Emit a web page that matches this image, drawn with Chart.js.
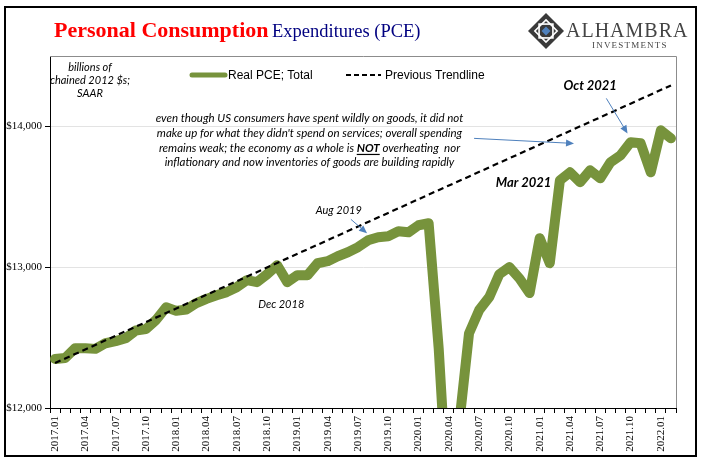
<!DOCTYPE html>
<html>
<head>
<meta charset="utf-8">
<script src="https://cdn.jsdelivr.net/npm/chart.js@4.4.1/dist/chart.umd.min.js"></script>
<style>
  html, body { margin: 0; padding: 0; background: #fff; }
  canvas { display: block; }
</style>
</head>
<body>
<canvas id="pce" width="705" height="461"></canvas>
<script>
// months on the x axis
const months = [
  '2017.01','2017.02','2017.03','2017.04','2017.05','2017.06','2017.07','2017.08','2017.09','2017.10','2017.11','2017.12',
  '2018.01','2018.02','2018.03','2018.04','2018.05','2018.06','2018.07','2018.08','2018.09','2018.10','2018.11','2018.12',
  '2019.01','2019.02','2019.03','2019.04','2019.05','2019.06','2019.07','2019.08','2019.09','2019.10','2019.11','2019.12',
  '2020.01','2020.02','2020.03','2020.04','2020.05','2020.06','2020.07','2020.08','2020.09','2020.10','2020.11','2020.12',
  '2021.01','2021.02','2021.03','2021.04','2021.05','2021.06','2021.07','2021.08','2021.09','2021.10','2021.11','2021.12',
  '2022.01','2022.02'
];

// Real PCE, billions of chained 2012 $, SAAR
const realPce = [
  12348, 12355, 12425, 12425, 12420, 12460, 12475, 12495, 12550, 12560, 12625, 12715,
  12690, 12700, 12745, 12775, 12800, 12823, 12858, 12908, 12894, 12950, 13014, 12894,
  12943, 12943, 13028, 13043, 13078, 13106, 13142, 13191, 13213, 13220, 13255, 13248,
  13298, 13312, 12420, 11200, 11870, 12530, 12695, 12787, 12950, 13000, 12920, 12816,
  13206, 13028, 13617, 13674, 13603, 13688, 13631, 13745, 13794, 13887, 13880, 13674,
  13972, 13915
];

// previous trendline, straight from first to last month
const trendMonths = ['2017.01', '2022.02'];
const trendValues = [12319, 14291];

// axis labels
const xTickLabels = ['2017.01','2017.04','2017.07','2017.10','2018.01','2018.04','2018.07','2018.10',
  '2019.01','2019.04','2019.07','2019.10','2020.01','2020.04','2020.07','2020.10',
  '2021.01','2021.04','2021.07','2021.10','2022.01'];
const yTicks = [12000, 13000, 14000];

const GREEN = '#77933C';
const ARROW = '#4F81BD';

function arrow(ctx, x1, y1, x2, y2) {
  const a = Math.atan2(y2 - y1, x2 - x1);
  const len = 8;
  ctx.save();
  ctx.strokeStyle = ARROW;
  ctx.fillStyle = ARROW;
  ctx.lineWidth = 1;
  ctx.beginPath();
  ctx.moveTo(x1, y1);
  ctx.lineTo(x2 - Math.cos(a) * len * 0.8, y2 - Math.sin(a) * len * 0.8);
  ctx.stroke();
  ctx.beginPath();
  ctx.moveTo(x2, y2);
  ctx.lineTo(x2 - len * Math.cos(a) + 3.5 * Math.sin(a), y2 - len * Math.sin(a) - 3.5 * Math.cos(a));
  ctx.lineTo(x2 - len * Math.cos(a) - 3.5 * Math.sin(a), y2 - len * Math.sin(a) + 3.5 * Math.cos(a));
  ctx.closePath();
  ctx.fill();
  ctx.restore();
}

function drawLogo(ctx) {
  const cx = 546, cy = 31, r = 18;
  ctx.save();
  ctx.fillStyle = '#3a3a3a';
  ctx.beginPath();
  ctx.moveTo(cx, cy - r); ctx.lineTo(cx + r, cy); ctx.lineTo(cx, cy + r); ctx.lineTo(cx - r, cy);
  ctx.closePath();
  ctx.fill();
  // lattice
  ctx.strokeStyle = '#fff';
  ctx.lineWidth = 1.6;
  const s = r * 0.62;
  ctx.beginPath();
  ctx.moveTo(cx, cy - s); ctx.lineTo(cx + s, cy); ctx.lineTo(cx, cy + s); ctx.lineTo(cx - s, cy);
  ctx.closePath();
  ctx.stroke();
  ctx.strokeRect(cx - s * 0.62, cy - s * 0.62, s * 1.24, s * 1.24);
  ctx.fillStyle = '#4F81BD';
  ctx.beginPath();
  const b = 4.5;
  ctx.moveTo(cx, cy - b); ctx.lineTo(cx + b, cy); ctx.lineTo(cx, cy + b); ctx.lineTo(cx - b, cy);
  ctx.closePath();
  ctx.fill();
  ctx.restore();

  ctx.save();
  ctx.fillStyle = '#444';
  ctx.textBaseline = 'alphabetic';
  ctx.textAlign = 'left';
  ctx.font = '20px "Liberation Serif"';
  ctx.letterSpacing = '1px';
  ctx.fillText('ALHAMBRA', 566, 37);
  ctx.font = '9px "Liberation Serif"';
  ctx.letterSpacing = '1.2px';
  ctx.fillText('INVESTMENTS', 592, 48);
  ctx.restore();
}

const decorations = {
  id: 'decorations',
  beforeDraw(chart) {
    const ctx = chart.ctx;
    ctx.save();
    ctx.fillStyle = '#fff';
    ctx.fillRect(0, 0, chart.width, chart.height);
    ctx.restore();
  },
  beforeDatasetsDraw(chart) {
    const ctx = chart.ctx;
    const a = chart.chartArea;
    ctx.save();
    ctx.strokeStyle = '#8c8c8c';
    ctx.lineWidth = 1;
    ctx.beginPath();
    ctx.moveTo(a.left, a.top + 0.5);
    ctx.lineTo(a.right + 0.5, a.top + 0.5);
    ctx.lineTo(a.right + 0.5, a.bottom);
    ctx.stroke();
    ctx.restore();
  },
  afterDraw(chart) {
    const ctx = chart.ctx;
    const xs = chart.scales.x, ys = chart.scales.y;
    const P = (i, v) => ({ x: xs.getPixelForValue(i), y: ys.getPixelForValue(v) });

    // outer frame
    ctx.save();
    ctx.strokeStyle = '#000';
    ctx.lineWidth = 2;
    ctx.strokeRect(5, 7, 691, 449);
    ctx.restore();

    // title
    ctx.save();
    ctx.textBaseline = 'alphabetic';
    ctx.textAlign = 'left';
    ctx.font = 'bold 22px "Liberation Serif"';
    ctx.fillStyle = '#FF0000';
    ctx.fillText('Personal Consumption', 54, 37);
    const w = ctx.measureText('Personal Consumption ').width;
    ctx.font = '18.5px "Liberation Serif"';
    ctx.fillStyle = '#000080';
    ctx.fillText('Expenditures (PCE)', 54 + w - 2, 37);
    ctx.restore();

    drawLogo(ctx);

    // units note
    ctx.save();
    ctx.font = 'italic 11px "Lato"';
    ctx.fillStyle = '#000';
    ctx.textAlign = 'center';
    ctx.fillText('billions of', 90, 71);
    ctx.fillText('chained 2012 $s;', 90, 84);
    ctx.fillText('SAAR', 90, 97);
    ctx.restore();

    // legend
    ctx.save();
    ctx.lineCap = 'round';
    ctx.strokeStyle = GREEN;
    ctx.lineWidth = 5;
    ctx.beginPath(); ctx.moveTo(192, 75); ctx.lineTo(225, 75); ctx.stroke();
    ctx.lineCap = 'butt';
    ctx.strokeStyle = '#000';
    ctx.lineWidth = 2;
    ctx.setLineDash([5, 3]);
    ctx.beginPath(); ctx.moveTo(346, 75); ctx.lineTo(381, 75); ctx.stroke();
    ctx.setLineDash([]);
    ctx.font = '12px "Liberation Sans"';
    ctx.fillStyle = '#000';
    ctx.textAlign = 'left';
    ctx.fillText('Real PCE; Total', 228, 79);
    ctx.fillText('Previous Trendline', 385, 79);
    ctx.restore();

    // main comment
    ctx.save();
    ctx.fillStyle = '#000';
    ctx.font = 'italic 11.5px "Lato"';
    ctx.textAlign = 'center';
    const c = P(25.2, 14028);
    ctx.fillText('even though US consumers have spent wildly on goods, it did not', c.x, c.y);
    ctx.fillText("make up for what they didn't spend on services; overall spending", c.x, c.y + 14.7);
    // third line with bold underlined NOT
    const pre = 'remains weak; the economy as a whole is ';
    const post = ' overheating  nor';
    const italic = 'italic 11.5px "Lato"';
    const bold = 'italic bold 11.5px "Lato"';
    ctx.font = italic;
    const wPre = ctx.measureText(pre).width, wPost = ctx.measureText(post).width;
    ctx.font = bold;
    const wNot = ctx.measureText('NOT').width;
    let x0 = c.x - (wPre + wNot + wPost) / 2;
    const y3 = c.y + 29.4;
    ctx.textAlign = 'left';
    ctx.font = italic;
    ctx.fillText(pre, x0, y3);
    ctx.font = bold;
    ctx.fillText('NOT', x0 + wPre, y3);
    ctx.fillRect(x0 + wPre, y3 + 2, wNot, 1.2);
    ctx.font = italic;
    ctx.fillText(post, x0 + wPre + wNot, y3);
    ctx.textAlign = 'center';
    ctx.fillText('inflationary and now inventories of goods are building rapidly', c.x, c.y + 44);
    ctx.restore();

    // point labels
    ctx.save();
    ctx.fillStyle = '#000';
    ctx.textAlign = 'center';
    ctx.font = 'italic 11px "Lato"';
    let p = P(28.1, 13376);
    ctx.fillText('Aug 2019', p.x, p.y);
    p = P(22.4, 12709);
    ctx.fillText('Dec 2018', p.x, p.y);
    ctx.font = 'italic bold 13px "Lato"';
    p = P(46.4, 13567);
    ctx.fillText('Mar 2021', p.x, p.y);
    p = P(53, 14255);
    ctx.fillText('Oct 2021', p.x, p.y);
    ctx.restore();

    // arrows
    let a1 = P(29.3, 13340), a2 = P(30.9, 13241);
    arrow(ctx, a1.x, a1.y, a2.x, a2.y);
    a1 = P(54.6, 14199); a2 = P(56.7, 13950);
    arrow(ctx, a1.x, a1.y, a2.x, a2.y);
    a1 = P(41.5, 13915); a2 = P(51.4, 13879);
    arrow(ctx, a1.x, a1.y, a2.x, a2.y);
  }
};

const tickFont = { family: '"Liberation Serif"', size: 11 };

new Chart(document.getElementById('pce'), {
  type: 'line',
  data: {
    labels: months,
    datasets: [
      {
        label: 'Real PCE; Total',
        data: realPce,
        borderColor: GREEN,
        borderWidth: 10,
        borderJoinStyle: 'round',
        borderCapStyle: 'round',
        pointRadius: 0,
        tension: 0,
        clip: 0,
        order: 1
      },
      {
        label: 'Previous Trendline',
        data: trendMonths.map((m, i) => ({ x: m, y: trendValues[i] })),
        borderColor: '#000',
        borderWidth: 2.2,
        borderDash: [6, 4],
        pointRadius: 0,
        clip: 0,
        order: 0
      }
    ]
  },
  options: {
    responsive: false,
    animation: false,
    events: [],
    layout: { padding: { top: 56, right: 29, left: 0, bottom: 0 } },
    plugins: {
      legend: { display: false },
      tooltip: { enabled: false },
      title: { display: false }
    },
    scales: {
      x: {
        type: 'category',
        offset: true,
        afterFit: s => { s.height = 53; },
        grid: {
          offset: true,
          drawOnChartArea: false,
          drawTicks: true,
          tickLength: 5,
          tickColor: '#000'
        },
        border: { display: true, color: '#000', width: 1 },
        ticks: {
          autoSkip: false,
          maxRotation: 90,
          minRotation: 90,
          padding: 3,
          color: '#000',
          font: tickFont,
          callback: function (value) {
            const lab = this.getLabelForValue(value);
            return xTickLabels.includes(lab) ? lab : '';
          }
        }
      },
      y: {
        min: 12000,
        max: 14500,
        afterFit: s => { s.width = 50; },
        afterBuildTicks: s => { s.ticks = yTicks.map(v => ({ value: v })); },
        grid: {
          color: '#e3e3e3',
          lineWidth: 1,
          tickLength: 5,
          tickColor: '#000'
        },
        border: { display: true, color: '#000', width: 1 },
        ticks: {
          padding: 3,
          color: '#000',
          font: tickFont,
          callback: v => '$' + v.toLocaleString('en-US')
        }
      }
    }
  },
  plugins: [decorations]
});
</script>
</body>
</html>
